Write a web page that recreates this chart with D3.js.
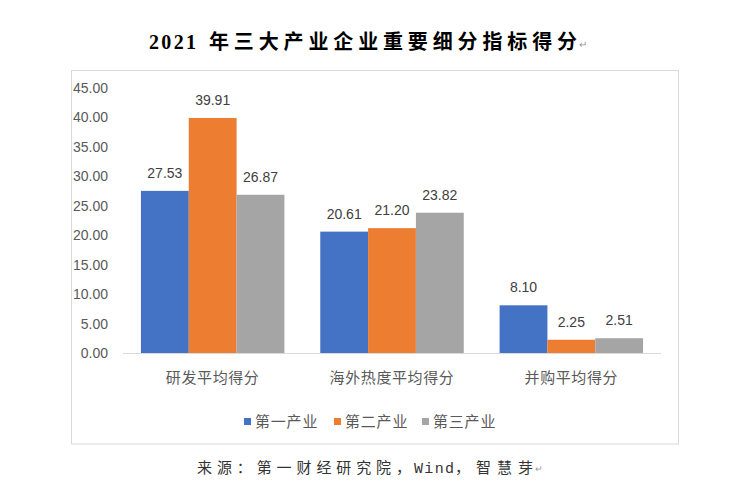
<!DOCTYPE html>
<html>
<head>
<meta charset="utf-8">
<script src="https://cdn.jsdelivr.net/npm/d3@7"></script>
<style>
html,body{margin:0;padding:0;background:#fff;}
svg{display:block;}
</style>
</head>
<body>
<svg id="chart" width="732" height="495"></svg>
<script>
const titleYear = "2021";
const titleText = "年三大产业企业重要细分指标得分";
const sourceParts = ["来源：第一财经研究院，", "Wind", "，智慧芽"];
const categories = ["研发平均得分", "海外热度平均得分", "并购平均得分"];
const seriesNames = ["第一产业", "第二产业", "第三产业"];
const primaryValues = [27.53, 20.61, 8.10];
const secondaryValues = [39.91, 21.20, 2.25];
const tertiaryValues = [26.87, 23.82, 2.51];
const yTicks = [0, 5, 10, 15, 20, 25, 30, 35, 40, 45];
const colors = ["#4472C4", "#ED7D31", "#A5A5A5"];

const series = [primaryValues, secondaryValues, tertiaryValues];
const svg = d3.select("#chart");
const cjk = "'Noto Sans CJK SC', 'Noto Sans', sans-serif";
const txt = "#595959";

// title
svg.append("text").attr("x", 149).attr("y", 49)
  .attr("font-family", "'Liberation Serif', serif")
  .attr("font-size", 20).attr("font-weight", "bold").attr("fill", "#000")
  .attr("textLength", 47).attr("lengthAdjust", "spacing")
  .text(titleYear);
svg.append("text").attr("x", 209).attr("y", 49)
  .attr("font-family", "'Noto Sans CJK SC', serif")
  .attr("font-size", 20).attr("font-weight", "bold").attr("fill", "#000")
  .attr("textLength", 368).attr("lengthAdjust", "spacing")
  .text(titleText);
svg.append("text").attr("x", 579).attr("y", 48)
  .attr("font-family", cjk).attr("font-size", 10).attr("fill", "#999").text("↵");

// frame
svg.append("rect").attr("x", 71.5).attr("y", 70.5).attr("width", 607).attr("height", 373.5)
  .attr("fill", "none").attr("stroke", "#d9d9d9").attr("stroke-width", 1);

const x0 = d3.scaleBand().domain(categories).range([123, 661]).paddingInner(0.2).paddingOuter(0.1);
const x1 = d3.scaleBand().domain(d3.range(series.length)).range([0, x0.bandwidth()]);
const y = d3.scaleLinear().domain([0, 45]).range([353, 88]);

// y axis labels
const yAxis = d3.axisLeft(y).tickValues(yTicks).tickFormat(d3.format(".2f")).tickSize(0).tickPadding(0);
const ya = svg.append("g").attr("transform", "translate(108,0)").call(yAxis);
ya.select(".domain").remove();
ya.selectAll("text").attr("font-family", "'Liberation Sans', Arial, sans-serif")
  .attr("font-size", 14).attr("fill", txt);

// bars
const groups = svg.append("g").selectAll("g").data(categories).join("g")
  .attr("transform", d => `translate(${x0(d)},0)`);
groups.selectAll("rect")
  .data((c, i) => series.map((s, j) => ({ j, v: s[i] })))
  .join("rect")
  .attr("x", d => x1(d.j))
  .attr("width", x1.bandwidth())
  .attr("y", d => y(d.v))
  .attr("height", d => y(0) - y(d.v))
  .attr("fill", d => colors[d.j]);
groups.selectAll("text.val")
  .data((c, i) => series.map((s, j) => ({ j, v: s[i] })))
  .join("text").attr("class", "val")
  .attr("x", d => x1(d.j) + x1.bandwidth() / 2)
  .attr("y", d => y(d.v) - 13)
  .attr("text-anchor", "middle")
  .attr("font-family", "'Liberation Sans', Arial, sans-serif")
  .attr("font-size", 14).attr("fill", "#404040")
  .text(d => d3.format(".2f")(d.v));

// baseline
svg.append("line").attr("x1", 123).attr("x2", 661).attr("y1", y(0) + 0.5).attr("y2", y(0) + 0.5)
  .attr("stroke", "#d9d9d9").attr("stroke-width", 1);

// x axis labels
const xAxis = d3.axisBottom(x0).tickSize(0).tickPadding(0);
const xa = svg.append("g").attr("transform", `translate(0,${372})`).call(xAxis);
xa.select(".domain").remove();
xa.selectAll("text").attr("font-family", cjk).attr("font-size", 15).attr("fill", txt)
  .style("letter-spacing", "0.6px")
  .attr("dy", "0.71em").attr("y", 0);

// legend
const legendX = [244, 334, 422];
const lg = svg.append("g").selectAll("g").data(seriesNames).join("g")
  .attr("transform", (d, i) => `translate(${legendX[i]},418)`);
lg.append("rect").attr("width", 7).attr("height", 7).attr("fill", (d, i) => colors[i]);
lg.append("text").attr("x", 11).attr("y", 4).attr("dy", "0.35em")
  .attr("font-family", cjk).attr("font-size", 15).attr("fill", txt)
  .style("letter-spacing", "0.8px").text(d => d);

// source
const srcX = [197, 414, 455];
const srcLen = [214, 40, 78];
const srcFont = [cjk, "'Liberation Mono', 'DejaVu Sans Mono', monospace", cjk];
sourceParts.forEach((p, i) => {
  svg.append("text").attr("x", srcX[i]).attr("y", 473)
    .attr("font-family", srcFont[i]).attr("font-size", 15).attr("fill", "#333")
    .attr("textLength", srcLen[i]).attr("lengthAdjust", "spacing").text(p);
});
svg.append("text").attr("x", 535).attr("y", 472)
  .attr("font-family", cjk).attr("font-size", 9).attr("fill", "#999").text("↵");
</script>
</body>
</html>
